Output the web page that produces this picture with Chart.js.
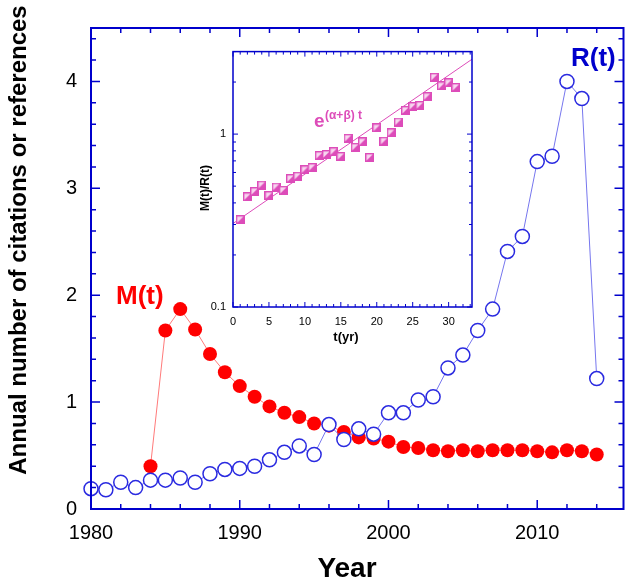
<!DOCTYPE html>
<html>
<head>
<meta charset="utf-8">
<script src="https://cdn.jsdelivr.net/npm/chart.js@4.4.0/dist/chart.umd.min.js"></script>
<style>
  body { margin: 0; background: #fff; }
  #wrap { position: relative; width: 632px; height: 582px; }
  canvas { position: absolute; }
</style>
</head>
<body>
<div id="wrap">
  <canvas id="main" width="632" height="582" style="left:0;top:0"></canvas>
  <canvas id="inset" width="290" height="312" style="left:190px;top:38px"></canvas>
</div>
<script>
// main plot: yearly values
const years = [1980, 1981, 1982, 1983, 1984, 1985, 1986, 1987, 1988, 1989,
               1990, 1991, 1992, 1993, 1994, 1995, 1996, 1997, 1998, 1999,
               2000, 2001, 2002, 2003, 2004, 2005, 2006, 2007, 2008, 2009,
               2010, 2011, 2012, 2013, 2014];
// R(t) - references
const refs = [0.19, 0.18, 0.25, 0.20, 0.27, 0.27, 0.29, 0.25, 0.33, 0.37,
              0.38, 0.40, 0.46, 0.53, 0.59, 0.51, 0.79, 0.65, 0.75, 0.70,
              0.90, 0.90, 1.02, 1.05, 1.32, 1.44, 1.67, 1.87, 2.41, 2.55,
              3.25, 3.30, 4.00, 3.84, 1.22];
// M(t) - citations (starts 1984)
const cites = [null, null, null, null, 0.40, 1.67, 1.87, 1.68, 1.45, 1.28,
               1.15, 1.05, 0.96, 0.90, 0.86, 0.80, 0.78, 0.72, 0.67, 0.66,
               0.63, 0.58, 0.57, 0.55, 0.54, 0.55, 0.54, 0.55, 0.55, 0.55,
               0.54, 0.53, 0.55, 0.54, 0.51];

// inset: ratio M(t)/R(t) against age
const ages = [1, 2, 3, 4, 5, 6, 7, 8, 9, 10, 11, 12, 13, 14, 15, 16,
              17, 18, 19, 20, 21, 22, 23, 24, 25, 26, 27, 28, 29, 30, 31];
const ratio = [0.32, 0.434, 0.465, 0.507, 0.441, 0.494, 0.473, 0.553, 0.570, 0.621, 0.640,
               0.751, 0.762, 0.791, 0.742, 0.945, 0.838, 0.901, 0.732, 1.086, 0.909,
               1.017, 1.174, 1.371, 1.444, 1.463, 1.645, 2.13, 1.90, 1.98, 1.86];
// fitted exponential e^(a+b)t, end points
const fitT = [0, 33.25];
const fitRatio = [0.304, 2.71];

const FONT = "'Liberation Sans', Arial, sans-serif";
const AXIS = '#0000cc';
const PINK = '#dd4cb9';

// box with inward ticks on all four sides
const frame = {
  id: 'frame',
  afterDraw(chart, args, o) {
    const { ctx, chartArea: a } = chart;
    const x = chart.scales.x, y = chart.scales.y;
    ctx.save();
    ctx.strokeStyle = o.color;
    ctx.lineWidth = o.lineWidth;
    ctx.strokeRect(a.left, a.top, a.right - a.left, a.bottom - a.top);
    ctx.lineWidth = o.tickWidth;
    ctx.beginPath();
    o.xTicks.forEach(t => {
      const px = x.getPixelForValue(t[0]);
      const len = t[1] ? o.majorLen : o.minorLen;
      ctx.moveTo(px, a.bottom); ctx.lineTo(px, a.bottom - len);
      ctx.moveTo(px, a.top); ctx.lineTo(px, a.top + len);
    });
    o.yTicks.forEach(t => {
      const py = y.getPixelForValue(t[0]);
      const len = t[1] ? o.majorLen : o.minorLen;
      ctx.moveTo(a.left, py); ctx.lineTo(a.left + len, py);
      ctx.moveTo(a.right, py); ctx.lineTo(a.right - len, py);
    });
    ctx.stroke();
    ctx.restore();
  }
};

// free text on the canvas
function notes(items) {
  return {
    id: 'notes',
    afterDraw(chart) {
      const ctx = chart.ctx;
      items.forEach(n => {
        ctx.save();
        ctx.font = n.font;
        ctx.fillStyle = n.color;
        ctx.textAlign = n.align || 'left';
        ctx.textBaseline = 'alphabetic';
        ctx.translate(n.x, n.y);
        if (n.rotate) ctx.rotate(-Math.PI / 2);
        ctx.fillText(n.text, 0, 0);
        ctx.restore();
      });
    }
  };
}

// ---------- main chart ----------
const mainXTicks = [];
for (let v = 1980; v <= 2014; v += 2) mainXTicks.push([v, v % 10 === 0]);
const mainYTicks = [];
for (let i = 0; i <= 22; i++) mainYTicks.push([i / 5, i % 5 === 0]);

new Chart(document.getElementById('main'), {
  type: 'line',
  data: {
    datasets: [{
      label: 'R(t)',
      data: years.map((yr, i) => ({ x: yr, y: refs[i] })),
      borderColor: '#7676ee',
      borderWidth: 1,
      pointRadius: 7,
      pointBorderWidth: 1.5,
      pointBorderColor: '#2a2ae0',
      pointBackgroundColor: '#ffffff',
      clip: false
    }, {
      label: 'M(t)',
      data: years.map((yr, i) => ({ x: yr, y: cites[i] })).filter(p => p.y !== null),
      borderColor: '#ff7a7a',
      borderWidth: 1,
      pointRadius: 7,
      pointBorderWidth: 0,
      pointBackgroundColor: '#ff0000',
      clip: false
    }]
  },
  options: {
    responsive: false,
    animation: false,
    layout: { padding: { top: 28, left: 0, right: 0, bottom: 0 } },
    plugins: {
      legend: { display: false },
      tooltip: { enabled: false },
      frame: {
        color: AXIS, lineWidth: 2, tickWidth: 1.5, majorLen: 9, minorLen: 5,
        xTicks: mainXTicks, yTicks: mainYTicks
      }
    },
    scales: {
      x: {
        type: 'linear', min: 1980, max: 2015.8,
        grid: { display: false, drawTicks: false },
        border: { display: false },
        ticks: { stepSize: 10, includeBounds: false, padding: 12, color: '#000',
                 font: { family: FONT, size: 20 }, callback: v => String(v) },
        afterFit: s => { s.height = 73; }
      },
      y: {
        min: 0, max: 4.5,
        grid: { display: false, drawTicks: false },
        border: { display: false },
        ticks: { stepSize: 1, includeBounds: false, padding: 14, color: '#000',
                 font: { family: FONT, size: 20 } },
        afterFit: s => { s.width = 91; }
      }
    }
  },
  plugins: [frame, notes([
    { text: 'Annual number of citations or references', x: 26, y: 240, rotate: true,
      align: 'center', font: 'bold 24px ' + FONT, color: '#000' },
    { text: 'Year', x: 347, y: 577, align: 'center', font: 'bold 28px ' + FONT, color: '#000' },
    { text: 'M(t)', x: 116, y: 304, font: 'bold 26px ' + FONT, color: '#ff0000' },
    { text: 'R(t)', x: 571, y: 66, font: 'bold 26px ' + FONT, color: '#0000cc' }
  ])]
});

// ---------- inset ----------
function halfSquare(size) {
  const c = document.createElement('canvas');
  c.width = c.height = size;
  const g = c.getContext('2d');
  g.fillStyle = '#f7d6ef';
  g.fillRect(0, 0, size, size);
  g.fillStyle = PINK;
  g.beginPath();
  g.moveTo(size, 0); g.lineTo(size, size); g.lineTo(0, size); g.closePath();
  g.fill();
  g.strokeStyle = PINK;
  g.lineWidth = 1.4;
  g.strokeRect(0.7, 0.7, size - 1.4, size - 1.4);
  return c;
}

const insetXTicks = [];
for (let v = 0; v <= 33; v++) insetXTicks.push([v, v % 5 === 0]);
const insetYTicks = [];
[0.1, 1].forEach(d => { for (let k = 1; k <= 9; k++) if (d * k <= 3.001) insetYTicks.push([d * k, k === 1]); });

new Chart(document.getElementById('inset'), {
  type: 'scatter',
  data: {
    datasets: [{
      label: 'M/R',
      data: ages.map((t, i) => ({ x: t, y: ratio[i] })),
      pointStyle: halfSquare(9),
      pointRadius: 4.5
    }, {
      label: 'fit',
      data: fitT.map((t, i) => ({ x: t, y: fitRatio[i] })),
      showLine: true,
      borderColor: PINK,
      borderWidth: 1,
      pointRadius: 0
    }]
  },
  options: {
    responsive: false,
    animation: false,
    layout: { padding: { top: 7, left: 0, right: 8, bottom: 0 } },
    plugins: {
      legend: { display: false },
      tooltip: { enabled: false },
      frame: {
        color: AXIS, lineWidth: 1.5, tickWidth: 1, majorLen: 5, minorLen: 3,
        xTicks: insetXTicks, yTicks: insetYTicks
      }
    },
    scales: {
      x: {
        type: 'linear', min: 0, max: 33.25,
        grid: { display: false, drawTicks: false },
        border: { display: false },
        ticks: { stepSize: 5, includeBounds: false, padding: 8, color: '#000',
                 font: { family: FONT, size: 11 } },
        afterFit: s => { s.height = 43; }
      },
      y: {
        type: 'logarithmic', min: 0.1, max: 3,
        grid: { display: false, drawTicks: false },
        border: { display: false },
        ticks: {
          autoSkip: false, padding: 7, color: '#000', font: { family: FONT, size: 11 },
          callback: v => {
            const l = Math.log10(v);
            return Math.abs(l - Math.round(l)) < 1e-6 ? String(Number(v.toPrecision(2))) : '';
          }
        },
        afterFit: s => { s.width = 43; }
      }
    }
  },
  plugins: [frame, notes([
    { text: 'M(t)/R(t)', x: 19, y: 150, rotate: true, align: 'center',
      font: 'bold 12px ' + FONT, color: '#000' },
    { text: 't(yr)', x: 156, y: 303, align: 'center', font: 'bold 13px ' + FONT, color: '#000' },
    { text: 'e', x: 124, y: 89, font: 'bold 19px ' + FONT, color: PINK },
    { text: '(\u03B1+\u03B2) t', x: 135, y: 81, font: 'bold 12px ' + FONT, color: PINK }
  ])]
});
</script>
</body>
</html>
